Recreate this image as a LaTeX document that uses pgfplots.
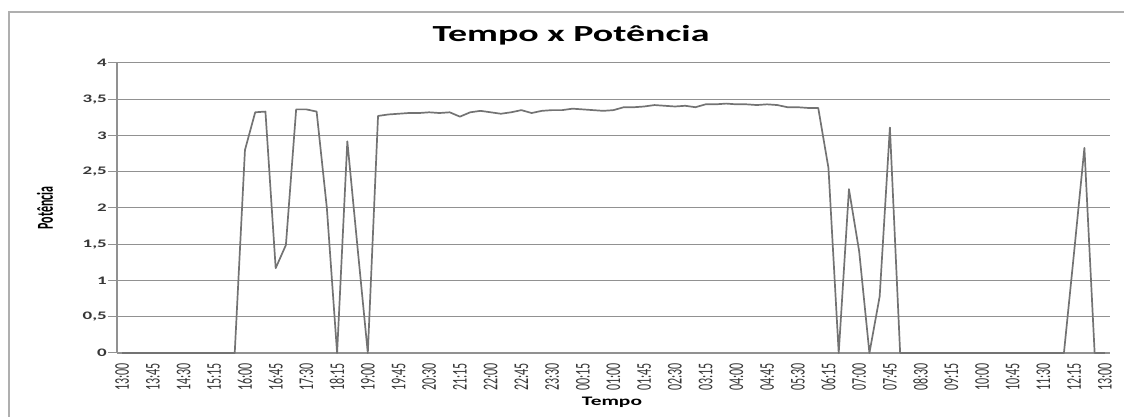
\documentclass[border=0pt]{standalone}
\usepackage{pgfplots}
\pgfplotsset{compat=1.18}
\usepackage{fontspec}
\setmainfont{Carlito}
\usepackage{graphicx}
\newcommand{\sx}[1]{\scalebox{1}[1.75]{#1}}
\newcommand{\sxl}[1]{\scalebox{1}[1.9]{#1}}
\newcommand{\sy}[1]{\scalebox{1.65}[1]{#1}}
\definecolor{gridc}{RGB}{145,145,145}
\definecolor{linec}{RGB}{115,115,115}
\definecolor{tickc}{RGB}{55,55,55}
\definecolor{borderc}{RGB}{175,175,175}
\begin{document}
\begin{tikzpicture}[x=1pt,y=1pt]
\path[use as bounding box] (0,0) rectangle (1124,417);
\draw[borderc, line width=1.3pt] (9,-5) -- (9,405) -- (1130,405);
\node[font=\bfseries\fontsize{23}{23}\selectfont] at (571,382) {\scalebox{1.65}[1]{Tempo x Potência}};
\begin{axis}[
  at={(117pt,64pt)}, anchor=south west,
  scale only axis, width=993pt, height=290pt,
  xmin=-0.5, xmax=96.5, ymin=0, ymax=4,
  axis x line*=bottom, axis y line*=left,
  axis line style={gridc, line width=1.2pt},
  ymajorgrids, grid style={gridc, line width=1.0pt},
  ytick={0,0.5,1,1.5,2,2.5,3,3.5,4},
  yticklabels={\sy{0},\sy{0,5},\sy{1},\sy{1,5},\sy{2},\sy{2,5},\sy{3},\sy{3,5},\sy{4}},
  ytick style={gridc, line width=1.0pt},
  tick align=outside, major tick length=9pt,
  xtick={0,3,...,96},
  xtick style={draw=none},
  xticklabels={\sx{13:00},\sx{13:45},\sx{14:30},\sx{15:15},\sx{16:00},\sx{16:45},\sx{17:30},\sx{18:15},\sx{19:00},\sx{19:45},\sx{20:30},\sx{21:15},\sx{22:00},\sx{22:45},\sx{23:30},\sx{00:15},\sx{01:00},\sx{01:45},\sx{02:30},\sx{03:15},\sx{04:00},\sx{04:45},\sx{05:30},\sx{06:15},\sx{07:00},\sx{07:45},\sx{08:30},\sx{09:15},\sx{10:00},\sx{10:45},\sx{11:30},\sx{12:15},\sx{13:00}},
  xticklabel style={rotate=90, anchor=east, font=\fontsize{12}{12}\selectfont, text=tickc, inner sep=1pt},
  yticklabel style={font=\bfseries\fontsize{11.5}{12}\selectfont, text=tickc, anchor=east, inner sep=1pt},
  xlabel={\sy{Tempo}},
  xlabel style={at={(axis description cs:0.4985,-0.169)}, anchor=center, font=\bfseries\fontsize{13}{13}\selectfont},
  ylabel={\sxl{Potência}},
  ylabel style={at={(axis description cs:-0.0725,0.5)}, anchor=center, font=\bfseries\fontsize{12}{12}\selectfont},
  clip=false,
]
\addplot[linec, line width=1.7pt, line join=round, mark=none] coordinates {
(0,0) (1,0) (2,0) (3,0) (4,0) (5,0) (6,0) (7,0) (8,0) (9,0) (10,0) (11,0)
(12,2.80) (13,3.32) (14,3.33) (15,1.17) (16,1.49) (17,3.36) (18,3.36) (19,3.33)
(20,2.00) (21,0) (22,2.92) (23,1.45) (24,0) (25,3.27) (26,3.29) (27,3.30)
(28,3.31) (29,3.31) (30,3.32) (31,3.31) (32,3.32) (33,3.26) (34,3.32) (35,3.34)
(36,3.32) (37,3.30) (38,3.32) (39,3.35) (40,3.31) (41,3.34) (42,3.35) (43,3.35)
(44,3.37) (45,3.36) (46,3.35) (47,3.34) (48,3.35) (49,3.39) (50,3.39) (51,3.40)
(52,3.42) (53,3.41) (54,3.40) (55,3.41) (56,3.39) (57,3.43) (58,3.43) (59,3.44)
(60,3.43) (61,3.43) (62,3.42) (63,3.43) (64,3.42) (65,3.39) (66,3.39) (67,3.38)
(68,3.38) (69,2.55) (70,0) (71,2.26) (72,1.40) (73,0) (74,0.78) (75,3.11)
(76,0) (77,0) (78,0) (79,0) (80,0) (81,0) (82,0) (83,0) (84,0) (85,0) (86,0)
(87,0) (88,0) (89,0) (90,0) (91,0) (92,0) (93,1.40) (94,2.83) (95,0) (96,0)
};
\end{axis}
\end{tikzpicture}
\end{document}
